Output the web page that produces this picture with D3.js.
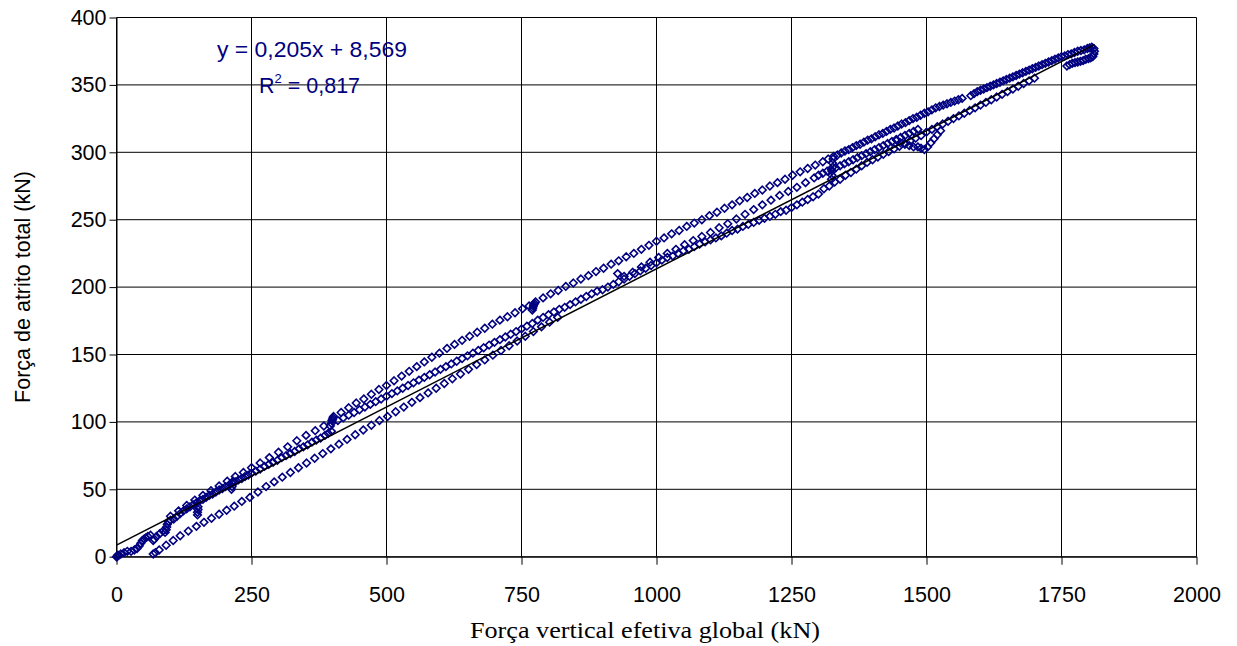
<!DOCTYPE html>
<html>
<head>
<meta charset="utf-8">
<script src="https://cdn.jsdelivr.net/npm/d3@7"></script>
<style>
  body { margin: 0; background: #fff; }
</style>
</head>
<body>
<div id="chart"></div>
<script>
// Tick labels
const xTicks = [0, 250, 500, 750, 1000, 1250, 1500, 1750, 2000]
const yTicks = [0, 50, 100, 150, 200, 250, 300, 350, 400]

// Linear trendline (Excel)
const trendSlope = 0.205
const trendIntercept = 8.569
const trendLabel = "y = 0,205x + 8,569"
const r2Label = "0,817"

// Data: [força vertical (kN), força de atrito (kN)]
const cargaInicial = [
  [0,0],[1,0],[2,1],[4,1],[8,2],[14,3],[20,4],[27,4],[33,5],[38,6],[42,8],[45,10],[48,12],[51,13],[54,14],
  [58,15],[63,16],[68,12],[70,13],[74,15],[80,17],[86,19],[90,18],[92,20],[93,22],[94,24],[96,26],[100,27],
  [106,28],[112,30],[118,32],[124,34],[130,35.5],[136,37],[142,38.5],[148,40],[150,31],[150,33],[151,35],
  [151,37],[154,41.5],[160,42.5],[166,44],[172,45.5],[178,46.5],[184,48],[190,49.5],[196,50.5],[202,52],
  [208,53],[213,50],[214,52],[214,54.5],[216,56],[220,55.5],[226,57],[232,58],[238,59.5],[244,60.5],[250,62],
  [258,63.5],[266,65],[274,67],[282,68.5],[290,70],[298,71.5],[306,73.5],[314,75],[322,76.5],[330,78],
  [338,80],[346,81.5],[354,83],[362,85],[370,86.5],[378,88],[386,90],[392,91.5],[398,93]
]
const ramoSuperiorInicial = [
  [100,30],[115,34],[130,38],[145,42],[160,45.5],[175,49],[190,52.5],[205,56],[220,59.5],[235,62.5],
  [250,66],[266,69.5],[283,73.5],[300,77.5],[317,81.5],[334,86],[351,90],[368,93.5],[384,97]
]
const ramoSuperior = [
  [396,97],[398,99],[399,101],[400,102],[401,103],[402,104],[416,107],[430,110.5],[444,114],[458,117],
  [472,120.5],[486,124],[500,127],[514,130.5],[528,134],[542,137.5],[556,141],[570,144.5],[584,148],[598,151],
  [612,154.5],[626,157.5],[640,160.5],[654,163.5],[668,166.5],[682,169.5],[696,172.5],[710,175.5],[724,178],
  [738,181],[752,184],[764,186],[770,183],[771,184.5],[772,186],[773,187],[774,188],[776,189],[790,192],
  [804,195],[818,197.5],[832,200.5],[846,203],[860,206],[874,208.5],[888,211.5],[902,214],[916,217],
  [930,219.5],[944,222.5],[958,225],[972,228],[986,231],[1000,234],[1014,236.5],[1028,239.5],[1042,242],
  [1056,245],[1070,247.5],[1084,250],[1098,253],[1112,255.5],[1126,258.5],[1140,261],[1154,264],[1168,266.5],
  [1182,269.5],[1196,272],[1210,275],[1224,277.5],[1238,280],[1252,283],[1266,285.5],[1280,288],[1294,290.5],
  [1308,293],[1318,295],[1324,280],[1325,283],[1325,286],[1326,289],[1326,292],[1327,295],[1328,297],
  [1335,298],[1342,299.5],[1349,301],[1356,302],[1363,303.5],[1370,305],[1377,306],[1384,307.5],[1391,309],
  [1398,310],[1405,311.5],[1412,313],[1419,314],[1426,315.5],[1433,317],[1440,318],[1447,319.5],[1454,321],
  [1461,322],[1468,323.5],[1475,325],[1482,326],[1489,327.5],[1496,329],[1503,330],[1510,331.5],[1517,333],
  [1524,334],[1531,335],[1538,336],[1545,337],[1552,338],[1559,339],[1566,340]
]
const faixaCentral = [
  [410,101],[420,103],[430,105],[440,107],[450,109],[460,111],[470,113],[480,115],[490,117],[500,119],
  [510,121],[520,123],[530,125],[540,127],[550,129],[560,131],[570,133],[580,135],[590,137],[600,139],
  [610,141],[620,143],[630,145],[640,147],[650,149],[660,151],[670,153],[680,155],[690,157],[700,159],
  [710,161],[720,163],[730,165],[740,167],[750,169],[760,171],[770,173],[780,175.5],[790,177.5],[800,179.5],
  [810,181.5],[820,183.5],[830,185],[840,187],[850,189],[860,191],[870,193],[880,195],[890,197],[900,198],
  [910,200],[920,202],[930,204],[940,206],[950,208],[960,210],[970,212],[980,214],[990,216],[1000,218],
  [1010,220],[1020,222],[1030,223],[1040,225],[1050,227],[1060,228],[1070,230],[1080,232],[1090,233.5],
  [1100,235],[1110,236.5],[1120,238],[1130,240],[1140,242],[1150,243],[1160,245],[1170,246.5],[1180,248],
  [1190,249.5],[1200,251],[1210,252.5],[1220,254],[1230,256],[1240,257],[1250,259],[1260,261],[1270,263],
  [1280,265],[1290,267],[1300,269],[1310,273],[1320,275],[1330,278],[1340,280],[1350,283],[1360,285],
  [1370,287.5],[1380,290],[1390,292.5],[1400,294.5],[1410,296.5],[1420,298.5],[1430,300.5],[1440,302.5],
  [1450,304.5],[1460,306.5],[1470,308.5],[1480,310.5],[1490,312.5],[1500,315],[1510,317],[1520,319],
  [1530,321],[1540,323],[1550,325],[1560,327],[1570,329],[1580,331],[1590,333],[1600,335],[1610,337],
  [1620,339],[1630,341],[1640,343],[1650,345],[1660,347],[1670,349],[1680,351],[1690,353],[1700,355]
]
const desvio = [
  [1445,309],[1452,307],[1460,306],[1468,305],[1476,304],[1484,304],[1490,303],[1496,302],[1502,304],
  [1508,307],[1514,310],[1520,313],[1526,316]
]
const ramoInferior = [
  [68,2],[72,3],[79,5],[92,8.5],[105,12],[118,15.5],[133,19],[148,22.5],[162,25.5],[176,28.5],[190,31.5],
  [204,34.5],[218,37.5],[232,41],[247,44],[262,48],[277,52],[292,55.5],[307,59],[322,62.5],[337,66],
  [352,69.5],[367,73],[382,76.5],[397,80],[412,83.5],[427,87],[442,90.5],[457,94],[472,97.5],[487,101],
  [502,104],[517,107.5],[532,111],[547,114.5],[562,118],[577,121.5],[592,125],[607,128.5],[622,132],
  [637,135.5],[652,139],[667,142.5],[682,146],[697,149.5],[712,153],[727,156.5],[742,160],[757,163.5],
  [772,167],[787,170.5],[802,174],[817,177.5]
]
const ramoIntermediario = [
  [928,210],[940,208],[956,211],[972,215],[988,218.5],[1004,222],[1020,225],[1036,228],[1052,231.5],
  [1068,234.5],[1084,237.5],[1100,240.5],[1116,244],[1132,247],[1148,250.5],[1164,254],[1180,257.5],
  [1196,261],[1212,264.5],[1228,268],[1244,271],[1260,274],[1276,277.5],[1292,281],[1300,283],[1308,284.5],
  [1316,286],[1324,287],[1332,288.5],[1340,290],[1348,291.5],[1356,293],[1364,294.5],[1372,296],[1380,297.5],
  [1388,299],[1396,300.5],[1404,302],[1412,303.5],[1420,305],[1428,306.5],[1436,308],[1444,309.5],
  [1452,311],[1460,312.5],[1468,314],[1476,315.5],[1484,317]
]
const ramoFinal = [
  [1582,342],[1588,343.5],[1594,345],[1600,346],[1606,347],[1612,348],[1618,349],[1624,350],[1630,351],
  [1636,352],[1642,353],[1648,354],[1654,355],[1660,356],[1666,357],[1672,358],[1678,359],[1684,360],
  [1690,361],[1696,362],[1702,363],[1708,364],[1714,365],[1720,366],[1726,367],[1732,368],[1738,369],
  [1744,370],[1750,371],[1756,371.5],[1762,372.5],[1768,373],[1774,374],[1780,375],[1786,375.5],[1792,376],
  [1798,377],[1802,377.5],[1806,378]
]
const descarga = [
  [1810,377],[1811,375],[1810,373],[1808,371],[1804,370],[1800,369.5],[1795,369],[1790,368],[1785,367.5],
  [1780,367],[1775,366.5],[1770,366],[1765,365],[1760,364]
]

const allPoints = [cargaInicial, ramoSuperiorInicial, ramoSuperior, faixaCentral, desvio,
  ramoInferior, ramoIntermediario, ramoFinal, descarga].flat()

const W = 1237, H = 646
const sans = '"Liberation Sans", Arial, sans-serif'
const svg = d3.select("#chart").append("svg").attr("width", W).attr("height", H)

// Scales
const x = d3.scaleLinear().domain([0, 2000]).range([116.5, 1196.5])
const y = d3.scaleLinear().domain([0, 400]).range([556.7, 17.5])

// Grid
const grid = svg.append("g")
grid.selectAll(".hg").data(yTicks).join("line")
  .attr("x1", x(0)).attr("x2", x(2000))
  .attr("y1", d => y(d)).attr("y2", d => y(d))
  .attr("stroke", "#000").attr("stroke-width", 1)
grid.selectAll(".vg").data(xTicks).join("line")
  .attr("x1", d => x(d)).attr("x2", d => x(d))
  .attr("y1", y(0)).attr("y2", y(400))
  .attr("stroke", "#000").attr("stroke-width", 1)

// Axes
const yAxis = d3.axisLeft(y).tickValues(yTicks).tickFormat(d3.format("d"))
  .tickSize(7).tickSizeOuter(0).tickPadding(3)
const xAxis = d3.axisBottom(x).tickValues(xTicks).tickFormat(d3.format("d"))
  .tickSize(8).tickSizeOuter(0).tickPadding(22)
const gy = svg.append("g").attr("transform", `translate(${x(0)},0)`).call(yAxis)
const gx = svg.append("g").attr("transform", `translate(0,${y(0)})`).call(xAxis)
for (const g of [gx, gy]) {
  g.attr("font-family", sans).attr("font-size", 21.5)
  g.selectAll("text").attr("fill", "#000")
  g.selectAll("line, path").attr("stroke", "#000")
}

// Points (hollow diamonds)
const diamond = "M0,-3.8L3.8,0L0,3.8L-3.8,0Z"
svg.append("g").selectAll("path").data(allPoints).join("path")
  .attr("d", diamond)
  .attr("transform", d => `translate(${x(d[0])},${y(d[1])})`)
  .attr("fill", "none").attr("stroke", "#000080").attr("stroke-width", 1.6)

// Trendline
const xMax = d3.max(allPoints, d => d[0])
svg.append("line")
  .attr("x1", x(0)).attr("y1", y(trendIntercept))
  .attr("x2", x(xMax)).attr("y2", y(trendSlope * xMax + trendIntercept))
  .attr("stroke", "#000").attr("stroke-width", 1.5)

// Equation
svg.append("text").attr("x", 217).attr("y", 57)
  .attr("font-family", sans).attr("font-size", 21.5).attr("fill", "#000080")
  .attr("textLength", 190).attr("lengthAdjust", "spacingAndGlyphs")
  .text(trendLabel)
const r2 = svg.append("text").attr("x", 259).attr("y", 93)
  .attr("font-family", sans).attr("font-size", 21.5).attr("fill", "#000080")
r2.append("tspan").text("R")
r2.append("tspan").attr("font-size", 13).attr("dy", -10).text("2")
r2.append("tspan").attr("dy", 10).text(" = " + r2Label)

// Axis titles
svg.append("text")
  .attr("transform", `translate(30,287) rotate(-90)`)
  .attr("text-anchor", "middle")
  .attr("font-family", sans).attr("font-size", 21.5)
  .text("Força de atrito total (kN)")
svg.append("text")
  .attr("x", 470).attr("y", 638)
  .attr("font-family", '"Liberation Serif", "Times New Roman", serif')
  .attr("font-size", 23)
  .attr("textLength", 350).attr("lengthAdjust", "spacingAndGlyphs")
  .text("Força vertical efetiva global (kN)")
</script>
</body>
</html>
